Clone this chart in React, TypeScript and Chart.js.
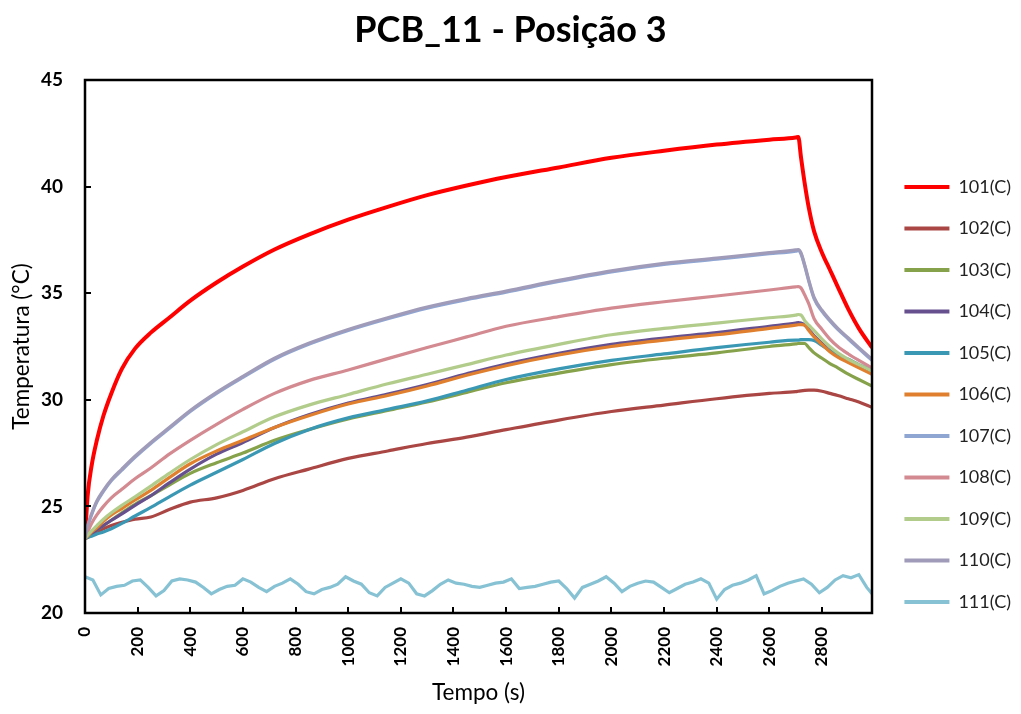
import React, { useEffect, useRef } from 'react';
import { Chart, registerables } from 'chart.js';

Chart.register(...registerables);

const TITLE = 'PCB_11 - Posição 3';
const X_TITLE = 'Tempo (s)';
const Y_TITLE = 'Temperatura (°C)';

const SERIES_LABELS = ['101(C)', '102(C)', '103(C)', '104(C)', '105(C)', '106(C)', '107(C)', '108(C)', '109(C)', '110(C)', '111(C)'];
const SERIES_COLORS = ['#FF0000', '#AA4643', '#86A24A', '#67508E', '#3A98B4', '#E0802F', '#8FA5D2', '#D38A91', '#B2CC8C', '#A09BB8', '#86C2D3'];

const X_MIN = 0;
const X_MAX = 2990;
const X_TICKS = [0, 200, 400, 600, 800, 1000, 1200, 1400, 1600, 1800, 2000, 2200, 2400, 2600, 2800];
const Y_MIN = 20;
const Y_MAX = 45;
const Y_STEP = 5;

// shared time base for 101..110 (s)
const TIME = [0, 10, 25, 45, 70, 100, 140, 190, 250, 320, 400, 500, 600, 720, 850, 1000, 1150, 1300, 1450, 1600, 1800, 2000, 2200, 2400, 2600, 2700, 2710, 2720, 2735, 2750, 2770, 2800, 2830, 2860, 2900, 2940, 2990];

const S101 = [23.5, 25.5, 26.9, 28.1, 29.25, 30.3, 31.45, 32.4, 33.15, 33.85, 34.65, 35.5, 36.25, 37.05, 37.75, 38.45, 39.05, 39.6, 40.05, 40.45, 40.9, 41.35, 41.68, 41.97, 42.2, 42.3, 42.33, 41.4, 40.1, 39.0, 37.9, 36.9, 36.1, 35.3, 34.25, 33.35, 32.45];
const S102 = [23.5, 23.55, 23.65, 23.8, 23.95, 24.1, 24.25, 24.4, 24.5, 24.85, 25.2, 25.4, 25.75, 26.3, 26.75, 27.25, 27.6, 27.95, 28.25, 28.6, 29.05, 29.45, 29.75, 30.05, 30.3, 30.38, 30.4, 30.42, 30.44, 30.45, 30.45, 30.4, 30.3, 30.2, 30.05, 29.9, 29.65];
const S103 = [23.5, 23.55, 23.7, 23.9, 24.1, 24.35, 24.7, 25.1, 25.5, 26.0, 26.55, 27.05, 27.5, 28.1, 28.6, 29.1, 29.5, 29.9, 30.35, 30.8, 31.25, 31.65, 31.95, 32.2, 32.5, 32.62, 32.64, 32.65, 32.64, 32.45, 32.2, 31.95, 31.7, 31.5, 31.2, 30.95, 30.65];
const S104 = [23.5, 23.55, 23.7, 23.9, 24.1, 24.35, 24.65, 25.05, 25.5, 26.1, 26.75, 27.45, 28.0, 28.7, 29.3, 29.85, 30.27, 30.72, 31.22, 31.68, 32.18, 32.6, 32.9, 33.15, 33.45, 33.6, 33.62, 33.6, 33.5, 33.3, 33.0, 32.65, 32.3, 32.05, 31.8, 31.55, 31.25];
const S105 = [23.5, 23.55, 23.6, 23.7, 23.8, 23.95, 24.2, 24.55, 24.95, 25.45, 26.0, 26.6, 27.2, 27.95, 28.6, 29.15, 29.55, 29.95, 30.45, 30.95, 31.45, 31.85, 32.15, 32.45, 32.7, 32.8, 32.8, 32.82, 32.82, 32.82, 32.78, 32.55, 32.3, 32.1, 31.9, 31.65, 31.4];
const S106 = [23.5, 23.6, 23.8, 24.0, 24.3, 24.6, 24.9, 25.3, 25.75, 26.35, 27.0, 27.6, 28.1, 28.7, 29.25, 29.8, 30.2, 30.65, 31.15, 31.6, 32.1, 32.5, 32.8, 33.05, 33.35, 33.5, 33.52, 33.53, 33.5, 33.25, 32.95, 32.6, 32.25, 32.0, 31.75, 31.5, 31.2];
const S107 = [23.5, 24.05, 24.6, 25.2, 25.7, 26.2, 26.7, 27.3, 27.95, 28.65, 29.45, 30.3, 31.05, 31.9, 32.6, 33.25, 33.8, 34.3, 34.7, 35.05, 35.55, 36.0, 36.35, 36.6, 36.85, 36.97, 37.0, 36.85, 36.25, 35.55, 34.75, 34.15, 33.7, 33.3, 32.85, 32.4, 31.85];
const S108 = [23.5, 23.8, 24.2, 24.6, 25.0, 25.4, 25.8, 26.3, 26.8, 27.45, 28.1, 28.85, 29.55, 30.3, 30.9, 31.4, 31.93, 32.45, 32.95, 33.45, 33.9, 34.3, 34.6, 34.87, 35.15, 35.3, 35.31, 35.25, 34.9, 34.5, 33.8, 33.3, 32.85, 32.5, 32.15, 31.85, 31.5];
const S109 = [23.5, 23.65, 23.85, 24.1, 24.4, 24.7, 25.05, 25.45, 25.95, 26.55, 27.2, 27.9, 28.5, 29.2, 29.75, 30.25, 30.75, 31.2, 31.65, 32.1, 32.6, 33.05, 33.35, 33.6, 33.85, 33.97, 34.0, 33.98, 33.7, 33.5, 33.25, 32.85, 32.5, 32.2, 31.9, 31.65, 31.35];
const S110 = [23.5, 24.1, 24.65, 25.25, 25.75, 26.25, 26.75, 27.35, 28.0, 28.7, 29.5, 30.35, 31.1, 31.95, 32.65, 33.3, 33.85, 34.35, 34.75, 35.1, 35.6, 36.05, 36.4, 36.65, 36.9, 37.03, 37.05, 36.9, 36.3, 35.6, 34.8, 34.2, 33.75, 33.35, 32.9, 32.45, 31.9];

// ambient sensor 111 has its own time base
const TIME_111 = [0, 30, 60, 90, 120, 150, 180, 210, 240, 270, 300, 330, 360, 390, 420, 450, 480, 510, 540, 570, 600, 630, 660, 690, 720, 750, 780, 810, 840, 870, 900, 930, 960, 990, 1020, 1050, 1080, 1110, 1140, 1170, 1200, 1230, 1260, 1290, 1320, 1350, 1380, 1410, 1440, 1470, 1500, 1530, 1560, 1590, 1620, 1650, 1680, 1710, 1740, 1770, 1800, 1830, 1860, 1890, 1920, 1950, 1980, 2010, 2040, 2070, 2100, 2130, 2160, 2190, 2220, 2250, 2280, 2310, 2340, 2370, 2400, 2430, 2460, 2490, 2520, 2550, 2580, 2610, 2640, 2670, 2700, 2730, 2760, 2790, 2820, 2850, 2880, 2910, 2940, 2970, 2990];
const S111 = [21.7, 21.55, 20.85, 21.15, 21.25, 21.3, 21.5, 21.55, 21.2, 20.8, 21.05, 21.5, 21.6, 21.55, 21.45, 21.2, 20.9, 21.1, 21.25, 21.3, 21.6, 21.45, 21.2, 21.0, 21.25, 21.4, 21.6, 21.35, 21.0, 20.9, 21.1, 21.2, 21.35, 21.7, 21.5, 21.35, 20.95, 20.8, 21.2, 21.4, 21.6, 21.4, 20.9, 20.8, 21.05, 21.35, 21.55, 21.4, 21.35, 21.25, 21.2, 21.3, 21.4, 21.45, 21.6, 21.15, 21.2, 21.25, 21.35, 21.45, 21.5, 21.15, 20.7, 21.2, 21.35, 21.5, 21.7, 21.4, 21.0, 21.25, 21.4, 21.5, 21.45, 21.2, 20.95, 21.15, 21.35, 21.45, 21.6, 21.4, 20.65, 21.1, 21.3, 21.4, 21.55, 21.75, 20.9, 21.05, 21.25, 21.4, 21.5, 21.6, 21.35, 20.95, 21.2, 21.55, 21.75, 21.65, 21.8, 21.2, 20.9];

const MAIN_SERIES = [S101, S102, S103, S104, S105, S106, S107, S108, S109, S110];

const CANVAS_W = 1021;
const CANVAS_H = 714;
const PLOT_RIGHT = 872;

const framePlugin = {
  id: 'frameTicks',
  beforeDraw(chart: any) {
    const { ctx } = chart;
    ctx.save();
    ctx.fillStyle = '#ffffff';
    ctx.fillRect(0, 0, chart.width, chart.height);
    ctx.restore();
  },
  afterDatasetsDraw(chart: any) {
    const { ctx, chartArea: a, scales } = chart;
    const xs = scales.x;
    const ys = scales.y;
    ctx.save();
    ctx.strokeStyle = '#000';
    ctx.lineWidth = 2;
    ctx.beginPath();
    xs.ticks.forEach((t: any) => {
      const px = Math.round(xs.getPixelForValue(t.value));
      ctx.moveTo(px, a.bottom);
      ctx.lineTo(px, a.bottom - 6);
    });
    ys.ticks.forEach((t: any) => {
      const py = Math.round(ys.getPixelForValue(t.value));
      ctx.moveTo(a.left, py);
      ctx.lineTo(a.left + 6, py);
    });
    ctx.stroke();
    ctx.lineWidth = 2.5;
    ctx.strokeRect(a.left, a.top, a.right - a.left, a.bottom - a.top);
    ctx.restore();
  },
};

export default function App() {
  const ref = useRef<HTMLCanvasElement | null>(null);

  useEffect(() => {
    if (!ref.current) return;
    Chart.defaults.font.family = 'Lato, "Open Sans", sans-serif';

    const datasets: any[] = MAIN_SERIES.map((vals, i) => ({
      label: SERIES_LABELS[i],
      data: TIME.map((t, j) => ({ x: t, y: vals[j] })),
      borderColor: SERIES_COLORS[i],
      backgroundColor: SERIES_COLORS[i],
      borderWidth: i === 0 ? 4 : 3.2,
      pointRadius: 0,
      fill: false,
      cubicInterpolationMode: 'monotone',
      order: 20 - i,
    }));
    datasets.push({
      label: SERIES_LABELS[10],
      data: TIME_111.map((t, j) => ({ x: t, y: S111[j] })),
      borderColor: SERIES_COLORS[10],
      backgroundColor: SERIES_COLORS[10],
      borderWidth: 3.2,
      pointRadius: 0,
      fill: false,
      tension: 0,
      order: 10,
    });

    const chart = new Chart(ref.current, {
      type: 'line',
      data: { datasets },
      plugins: [framePlugin],
      options: {
        animation: false,
        responsive: false,
        devicePixelRatio: 1,
        layout: { padding: 0 },
        plugins: {
          tooltip: { enabled: false },
          title: {
            display: true,
            text: TITLE,
            color: '#000',
            font: { size: 36, weight: 'bold', lineHeight: 1.2 },
            padding: { top: 9, bottom: 27.8 },
          },
          legend: {
            display: true,
            position: 'right',
            align: 'center',
            title: { display: true, text: ' ', font: { size: 10, lineHeight: 1 }, padding: { top: 65, bottom: 0 } },
            labels: {
              boxWidth: 45,
              boxHeight: 4,
              padding: 23.5,
              color: '#222',
              font: { size: 18 },
              sort: (a: any, b: any) => a.datasetIndex - b.datasetIndex,
              generateLabels: (c: any) =>
                (Chart.defaults.plugins.legend.labels.generateLabels as any)(c).map((l: any) => ({ ...l, lineWidth: 0 })),
            },
          },
        },
        scales: {
          x: {
            type: 'linear',
            min: X_MIN,
            max: X_MAX,
            grid: { display: false, drawTicks: false },
            border: { display: false },
            afterBuildTicks: (s: any) => {
              s.ticks = X_TICKS.map((v) => ({ value: v }));
            },
            ticks: {
              autoSkip: false,
              minRotation: 90,
              maxRotation: 90,
              padding: 14,
              color: '#000',
              font: { size: 17, weight: 'bold' },
              callback: (v: any) => String(v),
            },
            title: {
              display: true,
              text: X_TITLE,
              color: '#000',
              font: { size: 22.5, lineHeight: 1.2 },
              padding: { top: 0, bottom: 7.5 },
            },
            afterFit: (s: any) => {
              s.height = CANVAS_H - 613;
            },
          },
          y: {
            type: 'linear',
            min: Y_MIN,
            max: Y_MAX,
            grid: { display: false, drawTicks: false },
            border: { display: false },
            ticks: {
              stepSize: Y_STEP,
              padding: 22,
              color: '#000',
              font: { size: 19, weight: 'bold' },
            },
            title: {
              display: true,
              text: Y_TITLE,
              color: '#000',
              font: { size: 22.5, lineHeight: 1.2 },
              padding: { top: 8.5, bottom: 0 },
            },
            afterFit: (s: any) => {
              s.width = 85;
            },
          },
          spacer: {
            type: 'linear',
            position: 'right',
            display: true,
            grid: { display: false, drawTicks: false },
            border: { display: false },
            ticks: { display: false },
            afterFit: (s: any) => {
              const lw = s.chart.legend ? s.chart.legend.width : 140;
              s.width = Math.max(0, CANVAS_W - PLOT_RIGHT - lw);
            },
          },
        },
      } as any,
    });
    return () => chart.destroy();
  }, []);

  return (
    <div style={{ position: 'absolute', left: 0, top: 0, width: CANVAS_W, height: CANVAS_H, background: '#fff' }}>
      <canvas ref={ref} width={CANVAS_W} height={CANVAS_H} style={{ display: 'block' }} />
    </div>
  );
}
